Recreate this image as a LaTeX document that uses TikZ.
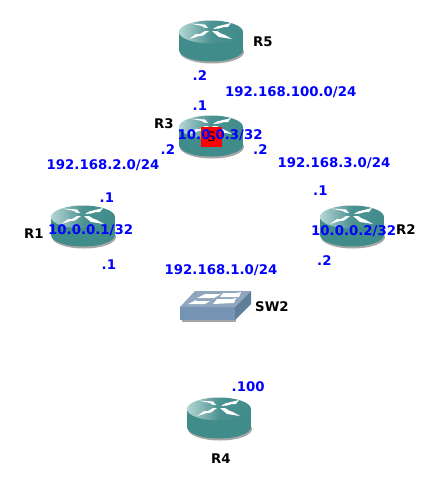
\documentclass[tikz,border=0pt]{standalone}
\usepackage{fontspec}
\setmainfont{DejaVu Sans}
\definecolor{teal1}{HTML}{3F8C8A}
\definecolor{teal2}{HTML}{4B9291}
\definecolor{tealL}{HTML}{B4D6D4}
\definecolor{swtop}{HTML}{8FA6BC}
\definecolor{swfront}{HTML}{7593B3}
\definecolor{swside}{HTML}{5F7F99}
\tikzset{
 lbl/.style={font=\bfseries\fontsize{13.3}{14}\selectfont,text=blue,inner sep=0pt},
 rname/.style={font=\bfseries\fontsize{13.3}{14}\selectfont,text=black,inner sep=0pt},
 wa/.style={fill=white,draw=none},
 routersym/.pic={
  \fill[black!35] (1,20) ellipse[x radius=32,y radius=11.5];
  \fill[teal1] (0,18) ellipse[x radius=32,y radius=11.5];
  \fill[teal1] (-32,0) rectangle (32,18);
  \shade[left color=tealL,right color=teal1,middle color=teal2] (0,0) ellipse[x radius=32,y radius=11.5];
  \fill[wa] (-21,-8.5) -- (-6,-7.5) -- (-3,-4) -- (-7,-4.5) -- (-9,-6) -- cycle;
  \fill[wa] (20,-9) -- (6,-5.5) -- (2,-3) -- (8,-3.5) -- (13,-5) -- (17,-5) -- cycle;
  \fill[wa] (-22,7) -- (-15,2) -- (-11,2) -- (-6,-1) -- (-2,-1) -- (-8,3.5) -- (-12,4) -- cycle;
  \fill[wa] (21,7) -- (8,5) -- (1,-1) -- (6,-1) -- (10,1.5) -- (14,3) -- cycle;
 }
}
\begin{document}
\begin{tikzpicture}[x=1pt,y=-1pt]
\useasboundingbox (0,0) rectangle (441,491);
\pic at (211,32) {routersym};
\pic at (211,127) {routersym};
\pic at (83,217) {routersym};
\pic at (352,217) {routersym};
\pic at (219,409) {routersym};
% switch
\fill[black!35] (182,309) -- (236,309) -- (236,322) -- (182,322) -- cycle;
\fill[swtop] (180,307) -- (195,291) -- (251,291) -- (235,307) -- cycle;
\fill[swfront] (180,307) rectangle (235,320);
\fill[swside] (235,307) -- (251,291) -- (251,304) -- (235,320) -- cycle;
\fill[wa] (188,304) -- (196,300) -- (196,301) -- (210,301) -- (205,304) -- cycle;
\fill[wa] (197,298) -- (205,294) -- (221,294) -- (214,298) -- cycle;
\fill[wa] (213,304) -- (217,299) -- (232,299) -- (236,298) -- (234,303) -- cycle;
\fill[wa] (220,297) -- (223,293) -- (236,293) -- (241,292) -- (239,297) -- cycle;
% red square
\node[fill=red,minimum width=20.5pt,minimum height=20.5pt,inner sep=0pt,font=\fontsize{13}{14}\selectfont] (s) at (211.5,137) {S};
% names
\node[rname,anchor=base west] (r5) at (253,46) {R5};
\node[rname,anchor=base west] (r3) at (154,128) {R3};
\node[rname,anchor=base west] (r1) at (24,238) {R1};
\node[rname,anchor=base west] (r2) at (396,234) {R2};
\node[rname,anchor=base west] (sw2) at (255,311) {SW2};
\node[rname,anchor=base west] (r4) at (211,463) {R4};
% labels
\node[lbl,anchor=base west] (a1) at (225,96) {192.168.100.0/24};
\node[lbl,anchor=base west] (a2) at (192.5,80) {.2};
\node[lbl,anchor=base west] (a3) at (192.5,110) {.1};
\node[lbl,anchor=base west] (a4) at (177.5,139) {10.0.0.3/32};
\node[lbl,anchor=base west] (a5) at (160.5,154) {.2};
\node[lbl,anchor=base west] (a6) at (253,154) {.2};
\node[lbl,anchor=base west] (a7) at (46.5,169) {192.168.2.0/24};
\node[lbl,anchor=base west] (a8) at (277.5,167) {192.168.3.0/24};
\node[lbl,anchor=base west] (a9) at (99.5,202) {.1};
\node[lbl,anchor=base west] (a10) at (313,195) {.1};
\node[lbl,anchor=base west] (a11) at (48,234) {10.0.0.1/32};
\node[lbl,anchor=base west] (a12) at (311,235) {10.0.0.2/32};
\node[lbl,anchor=base west] (a13) at (101.5,269) {.1};
\node[lbl,anchor=base west] (a14) at (317,265) {.2};
\node[lbl,anchor=base west] (a15) at (164.5,274) {192.168.1.0/24};
\node[lbl,anchor=base west] (a16) at (231.5,391) {.100};
\end{tikzpicture}
\end{document}
